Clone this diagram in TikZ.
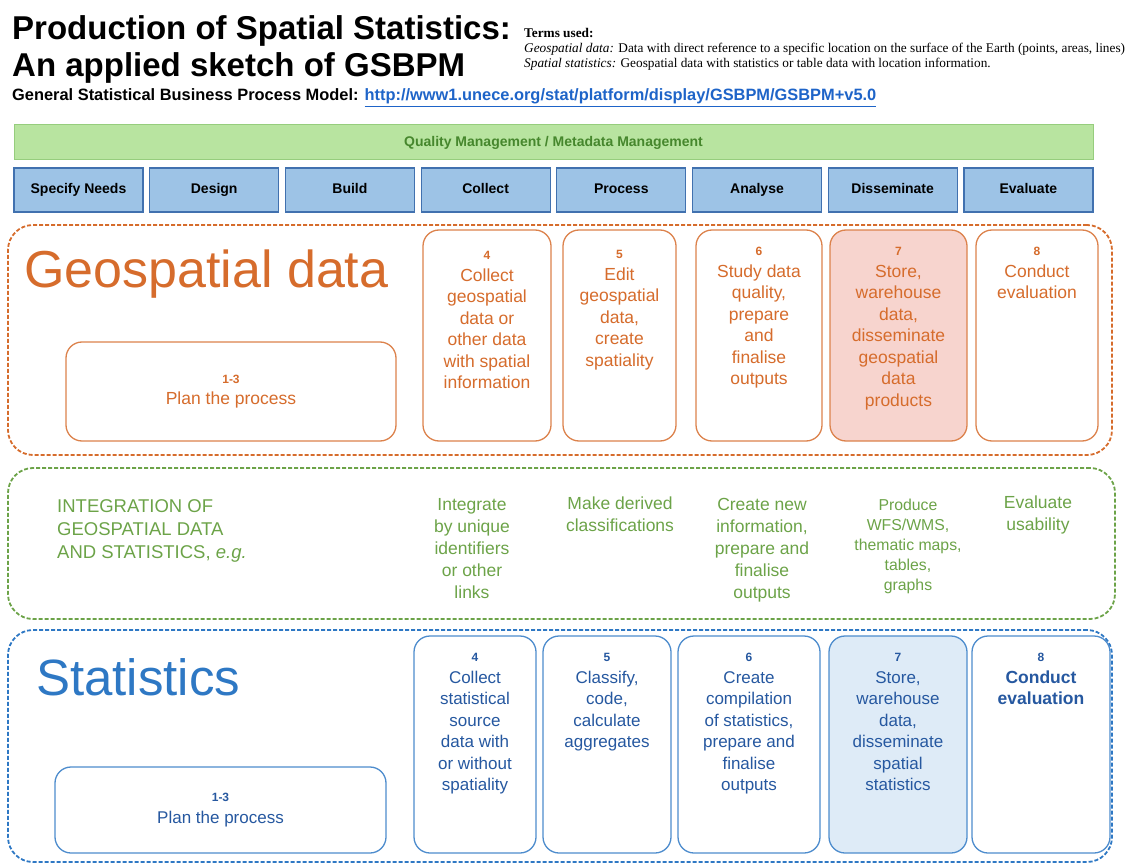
\documentclass[tikz,border=0pt]{standalone}
\usepackage{fontspec}
\setmainfont{Liberation Sans}
\newfontfamily\termsfont{Liberation Serif}
\usetikzlibrary{positioning}

\definecolor{geoorange}{RGB}{214,108,44}
\definecolor{geopink}{RGB}{247,212,206}
\definecolor{intgreen}{RGB}{108,163,72}
\definecolor{statblue}{RGB}{46,120,196}
\definecolor{statdark}{RGB}{38,88,160}
\definecolor{statfill}{RGB}{222,235,247}
\definecolor{phasefill}{RGB}{157,195,230}
\definecolor{phaseline}{RGB}{65,113,175}
\definecolor{qmfill}{RGB}{184,228,160}
\definecolor{qmline}{RGB}{150,205,125}
\definecolor{qmtext}{RGB}{70,135,45}
\definecolor{linkblue}{RGB}{30,100,200}

\newcommand{\phaseno}[1]{{\fontsize{12}{12}\selectfont\bfseries #1}} % small bold step number

\tikzset{
  x=1pt, y=-1pt, % one unit is one pixel of the sketch, y runs downwards
  heading/.style={anchor=base west, inner sep=0pt, font=\fontsize{33}{33}\selectfont\bfseries},
  subheading/.style={anchor=base west, inner sep=0pt, font=\fontsize{16.4}{17}\selectfont\bfseries},
  terms/.style={anchor=base west, inner sep=0pt, font=\termsfont\fontsize{13.3}{14}\selectfont},
  qmbar/.style={draw=qmline, fill=qmfill, line width=1pt, minimum width=1079pt, minimum height=35pt, text=qmtext, font=\fontsize{14}{15}\selectfont\bfseries},
  phase/.style={draw=phaseline, fill=phasefill, line width=1.2pt, minimum width=129pt, minimum height=44pt, inner sep=0pt, outer sep=0pt, text height=10pt, text depth=3pt, font=\fontsize{14}{15}\selectfont\bfseries}, % the eight GSBPM phases
  region/.style={dash pattern=on 4pt off 2pt, line width=1.8pt, rounded corners=25pt, inner sep=0pt}, % the three dashed bands
  bigtitle/.style={anchor=base west, inner sep=0pt, font=\fontsize{52}{52}\selectfont},
  gbox/.style={draw=geoorange!85, fill=white, rounded corners=16pt, line width=1.3pt, inner sep=0pt},
  sbox/.style={draw=statblue!85, fill=white, rounded corners=16pt, line width=1.3pt, inner sep=0pt},
  gtext/.style={anchor=north, align=center, inner sep=0pt, text=geoorange, font=\fontsize{17.5}{21.5}\selectfont},
  itext/.style={anchor=north, align=center, inner sep=0pt, text=intgreen, font=\fontsize{17.5}{22}\selectfont},
  stext/.style={anchor=north, align=center, inner sep=0pt, text=statdark, font=\fontsize{17}{21.5}\selectfont},
}

\begin{document}
\begin{tikzpicture}
  \useasboundingbox (0,0) rectangle (1128,864);

  % heading and terms
  \node[heading] (title1) at (12,40) {Production of Spatial Statistics:};
  \node[heading] (title2) at (12,77) {An applied sketch of GSBPM};
  \node[subheading] (model) at (12,101) {General Statistical Business Process Model: \textcolor{linkblue}{\underline{http://www1.unece.org/stat/platform/display/GSBPM/GSBPM+v5.0}}};
  \node[terms] (terms1) at (524,38) {\textbf{Terms used:}};
  \node[terms] (terms2) at (524,53) {\textit{Geospatial data:} Data with direct reference to a specific location on the surface of the Earth (points, areas, lines)};
  \node[terms] (terms3) at (524,68) {\textit{Spatial statistics:} Geospatial data with statistics or table data with location information.};

  % quality bar and phases
  \node[qmbar] (qm) at (553.5,142.5) {Quality Management / Metadata Management};
  \node[phase, anchor=west] (specify) at (14,190) {Specify Needs};
  \node[phase, right=6.7pt of specify] (design) {Design};
  \node[phase, right=6.7pt of design] (build) {Build};
  \node[phase, right=6.7pt of build] (collect) {Collect};
  \node[phase, right=6.7pt of collect] (process) {Process};
  \node[phase, right=6.7pt of process] (analyse) {Analyse};
  \node[phase, right=6.7pt of analyse] (disseminate) {Disseminate};
  \node[phase, right=6.7pt of disseminate] (evaluate) {Evaluate};

  % geospatial data
  \node[region, draw=geoorange, minimum width=1104pt, minimum height=230pt] (georeg) at (560,340) {};
  \node[bigtitle, text=geoorange] (geotitle) at (24,287) {Geospatial data};
  \node[gbox, minimum width=330pt, minimum height=99pt, align=center, text=geoorange, font=\fontsize{17.5}{21.5}\selectfont] (geo13) at (231,391.5) {\phaseno{1-3}\\Plan the process};
  \node[gbox, minimum width=128pt, minimum height=211pt] (geo4) at (487,335.5) {};
  \node[gbox, minimum width=113pt, minimum height=211pt] (geo5) at (619.5,335.5) {};
  \node[gbox, minimum width=126pt, minimum height=211pt] (geo6) at (759,335.5) {};
  \node[gbox, fill=geopink, minimum width=137pt, minimum height=211pt] (geo7) at (898.5,335.5) {};
  \node[gbox, minimum width=122pt, minimum height=211pt] (geo8) at (1037,335.5) {};
  \node[gtext, below=22pt of geo4.north] (geo4t) {\phaseno{4}\\Collect\\geospatial\\data or\\other data\\with spatial\\information};
  \node[gtext, below=21pt of geo5.north] (geo5t) {\phaseno{5}\\Edit\\geospatial\\data,\\create\\spatiality};
  \node[gtext, below=18pt of geo6.north] (geo6t) {\phaseno{6}\\Study data\\quality,\\prepare\\and\\finalise\\outputs};
  \node[gtext, below=18pt of geo7.north] (geo7t) {\phaseno{7}\\Store,\\warehouse\\data,\\disseminate\\geospatial\\data\\products};
  \node[gtext, below=18pt of geo8.north] (geo8t) {\phaseno{8}\\Conduct\\evaluation};

  % integration
  \node[region, draw=intgreen, minimum width=1107pt, minimum height=151pt] (intreg) at (561.5,543.5) {};
  \node[itext, anchor=north west, align=left, font=\fontsize{18.5}{23}\selectfont] (intlabel) at (57,499) {INTEGRATION OF\\GEOSPATIAL DATA\\AND STATISTICS, \textit{e.g.}};
  \node[itext] (int4) at (472,498) {Integrate\\by unique\\identifiers\\or other\\links};
  \node[itext] (int5) at (620,497) {Make derived\\classifications};
  \node[itext] (int6) at (762,498) {Create new\\information,\\prepare and\\finalise\\outputs};
  \node[itext, font=\fontsize{15.8}{20}\selectfont] (int7) at (908,499) {Produce\\WFS/WMS,\\thematic maps,\\tables,\\graphs};
  \node[itext] (int8) at (1038,496) {Evaluate\\usability};

  % statistics
  \node[region, draw=statblue, minimum width=1104pt, minimum height=232pt] (statreg) at (560,746) {};
  \node[bigtitle, text=statblue, font=\fontsize{51}{51}\selectfont] (stattitle) at (36,695) {Statistics};
  \node[sbox, minimum width=331pt, minimum height=86pt, align=center, text=statdark, font=\fontsize{17}{21.5}\selectfont] (stat13) at (220.5,810) {\phaseno{1-3}\\Plan the process};
  \node[sbox, minimum width=122pt, minimum height=217pt] (stat4) at (475,744.5) {};
  \node[sbox, minimum width=128pt, minimum height=217pt] (stat5) at (607,744.5) {};
  \node[sbox, minimum width=142pt, minimum height=217pt] (stat6) at (749,744.5) {};
  \node[sbox, fill=statfill, minimum width=138pt, minimum height=217pt] (stat7) at (898,744.5) {};
  \node[sbox, minimum width=138pt, minimum height=217pt] (stat8) at (1041,744.5) {};
  \node[stext, below=18pt of stat4.north] (stat4t) {\phaseno{4}\\Collect\\statistical\\source\\data with\\or without\\spatiality};
  \node[stext, below=18pt of stat5.north] (stat5t) {\phaseno{5}\\Classify,\\code,\\calculate\\aggregates};
  \node[stext, below=18pt of stat6.north] (stat6t) {\phaseno{6}\\Create\\compilation\\of statistics,\\prepare and\\finalise\\outputs};
  \node[stext, below=18pt of stat7.north] (stat7t) {\phaseno{7}\\Store,\\warehouse\\data,\\disseminate\\spatial\\statistics};
  \node[stext, below=18pt of stat8.north, font=\fontsize{17.5}{21.5}\selectfont\bfseries] (stat8t) {\phaseno{8}\\Conduct\\evaluation};
\end{tikzpicture}
\end{document}
